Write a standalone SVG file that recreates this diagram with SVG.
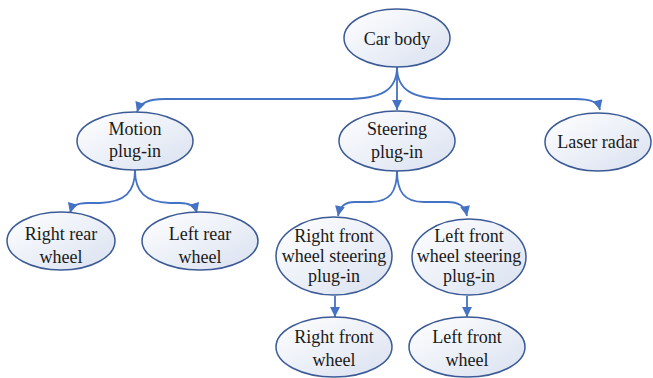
<svg xmlns="http://www.w3.org/2000/svg" width="653" height="378" viewBox="0 0 653 378">
<style>
.node ellipse{fill:url(#g);stroke:#3b5a96;stroke-width:1.5}
.node text{font-family:'Liberation Serif','Times New Roman',Tinos,'DejaVu Serif',serif;font-size:18px;fill:#1a1a1a;text-anchor:middle}
.conn path{fill:none;stroke:#4472c4;stroke-width:1.8;marker-end:url(#a)}
</style>
<defs>
<linearGradient id="g" x1="0" y1="0" x2="1" y2="1">
<stop offset="0" stop-color="#ffffff"/>
<stop offset="1" stop-color="#d9e1f0"/>
</linearGradient>
<marker id="a" viewBox="0 0 10 10" refX="10" refY="5" markerWidth="6" markerHeight="5.5" markerUnits="strokeWidth" orient="auto">
<path d="M0,0 L10,5 L0,10 z" fill="#4472c4"/>
</marker>
</defs>
<g class="conn">
<path d="M397,67 L397,110"/>
<path d="M397,67 C397,90 382,99 345,99 L165,99 C148,99 140,103 137,112"/>
<path d="M397,67 C397,90 412,99 449,99 L575,99 C591,99 598,102 600,110"/>
<path d="M135,170 C135,192 125,202 100,203 L88,203 C76,203 72,206 70,213"/>
<path d="M135,170 C135,192 145,202 170,203 L180,203 C190,203 195,206 197,213"/>
<path d="M397,170 C397,192 390,202 370,202 L355,202 C345,202 340,206 338,216"/>
<path d="M397,170 C397,192 404,202 424,202 L447,202 C459,202 465,206 467,216"/>
<path d="M335,296 L335,317"/>
<path d="M467,296 L467,317"/>
</g>
<g id="car-body" class="node"><ellipse cx="397" cy="38" rx="53" ry="29"/><text x="397" y="45">Car body</text></g>
<g id="motion" class="node"><ellipse cx="135" cy="141" rx="58" ry="29"/><text x="135" y="135">Motion</text><text x="135" y="157">plug-in</text></g>
<g id="steering" class="node"><ellipse cx="397" cy="141" rx="58" ry="30"/><text x="397" y="135">Steering</text><text x="397" y="158">plug-in</text></g>
<g id="laser" class="node"><ellipse cx="598" cy="142" rx="53" ry="29"/><text x="598" y="148">Laser radar</text></g>
<g id="right-rear" class="node"><ellipse cx="61" cy="241" rx="54" ry="29"/><text x="61" y="240">Right rear</text><text x="61" y="263">wheel</text></g>
<g id="left-rear" class="node"><ellipse cx="200" cy="241" rx="58" ry="29"/><text x="200" y="240">Left rear</text><text x="200" y="263">wheel</text></g>
<g id="rf-steer" class="node"><ellipse cx="334" cy="256" rx="58" ry="39"/><text x="334" y="242">Right front</text><text x="334" y="262">wheel steering</text><text x="334" y="282">plug-in</text></g>
<g id="lf-steer" class="node"><ellipse cx="469" cy="257" rx="57" ry="38"/><text x="469" y="242">Left front</text><text x="469" y="262">wheel steering</text><text x="469" y="282">plug-in</text></g>
<g id="rf-wheel" class="node"><ellipse cx="334" cy="347" rx="58" ry="30"/><text x="334" y="343">Right front</text><text x="334" y="366">wheel</text></g>
<g id="lf-wheel" class="node"><ellipse cx="467" cy="347" rx="58" ry="30"/><text x="467" y="343">Left front</text><text x="467" y="366">wheel</text></g>
</svg>
